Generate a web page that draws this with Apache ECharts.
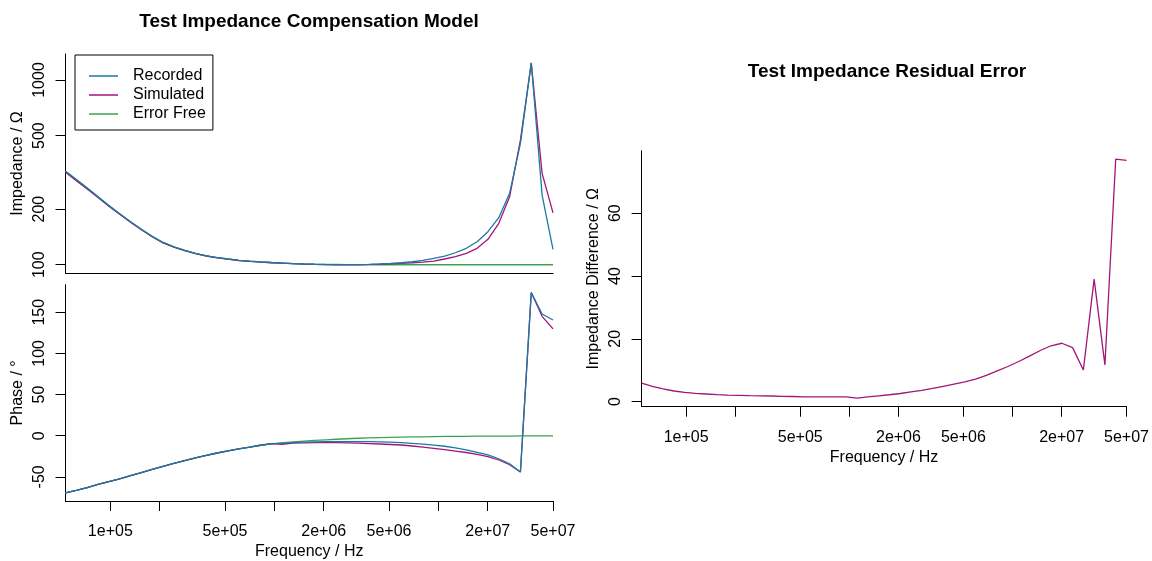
<!DOCTYPE html>
<html>
<head>
<meta charset="utf-8">
<script src="https://cdn.jsdelivr.net/npm/echarts@6/dist/echarts.min.js"></script>
<style>
  html, body { margin: 0; padding: 0; background: #fff; }
  #main { width: 1152px; height: 561px; }
</style>
</head>
<body>
<div id="main"></div>
<script>
  // frequency grid (Hz)
  var freq = [53300, 62040, 72240, 84100, 97930, 114000, 132700, 154500, 179900, 209500,
    243900, 283900, 330600, 384900, 448100, 521700, 607300, 707200, 823300, 958500,
    1115900, 1299000, 1512500, 1761000, 2050000, 2387000, 2778000, 3235000, 3766000, 4385000,
    5105000, 5943000, 6918000, 8054000, 9378000, 10920000, 12710000, 14800000, 17230000, 20060000,
    23360000, 27190000, 31650000, 36850000, 42910000, 50000000]

  // impedance magnitude / ohm
  var impRecorded = [321, 289, 260, 233, 209, 189, 171, 155.5, 142.4, 132,
    125, 119.5, 115.3, 111.8, 109.2, 107.4, 105.7, 104.5, 103.6, 102.8,
    102.1, 101.5, 101.0, 100.6, 100.3, 100.2, 100.1, 100.2, 100.4, 100.9,
    101.6, 102.5, 103.8, 105.6, 108.3, 111.4, 116.1, 122.7, 133.2, 150.9,
    179.7, 243.6, 454, 1241, 238, 121]
  var impSimulated = [317, 285, 257, 231, 207.5, 187.8, 170, 154.7, 141.7, 131.4,
    124.5, 119.1, 115, 111.5, 108.9, 107.1, 105.4, 104.2, 103.3, 102.5,
    101.9, 101.3, 100.8, 100.4, 100.1, 100.0, 99.9, 100.0, 100.2, 100.6,
    101.1, 101.8, 102.5, 103.4, 104.7, 107.4, 110.5, 115.3, 122.7, 137.3,
    167.5, 233, 473, 1235, 312, 191]
  var impErrorFree = [321, 289, 260, 233, 209, 189, 171, 155.5, 142.4, 132,
    125, 119.5, 115.3, 111.8, 109.2, 107.4, 105.7, 104.5, 103.6, 102.8,
    102.1, 101.4, 100.9, 100.6, 100.4, 100.3, 100.2, 100.1, 100.1, 100.0,
    100.0, 100.0, 100.0, 100.0, 100.0, 100.0, 100.0, 100.0, 100.0, 100.0,
    100.0, 100.0, 100.0, 100.0, 100.0, 100.0]

  // phase / degree
  var phRecorded = [-69.5, -66.5, -63.0, -59.2, -55.8, -52.3, -48.5, -44.8, -41.0, -37.3,
    -33.7, -30.2, -27.0, -23.9, -21.0, -18.4, -16.0, -13.9, -11.6, -9.9,
    -9.0, -8.3, -7.8, -7.4, -7.2, -7.1, -7.1, -7.2, -7.3, -7.5,
    -7.8, -8.4, -9.2, -10.3, -11.4, -12.8, -14.8, -17.3, -20.2, -23.4,
    -28.0, -34.1, -44.1, 173.8, 147.8, 140.5]
  var phSimulated = [-69.5, -66.5, -63.0, -59.2, -55.8, -52.3, -48.5, -44.8, -41.0, -37.3,
    -33.7, -30.2, -27.0, -23.9, -21.0, -18.4, -16.0, -13.9, -11.6, -9.6,
    -10.4, -9.0, -8.6, -8.4, -8.3, -8.4, -8.7, -9.1, -9.6, -10.1,
    -10.7, -11.3, -12.5, -13.9, -15.3, -17.0, -18.7, -20.4, -22.8, -25.3,
    -29.5, -35.3, -44.1, 173.8, 145.0, 129.8]
  var phErrorFree = [-69.5, -66.5, -63.0, -59.2, -55.8, -52.3, -48.5, -44.8, -41.0, -37.3,
    -33.7, -30.2, -27.0, -23.9, -21.0, -18.4, -16.0, -13.9, -11.6, -9.9,
    -8.6, -7.5, -6.5, -5.7, -5.0, -4.3, -3.7, -3.1, -2.7, -2.3,
    -2.0, -1.7, -1.5, -1.3, -1.1, -0.9, -0.8, -0.7, -0.6, -0.5,
    -0.4, -0.4, -0.3, -0.3, -0.3, -0.2]

  // |recorded - simulated| / ohm
  var residual = [5.9, 4.9, 4.1, 3.4, 2.95, 2.65, 2.45, 2.25, 2.1, 2.0,
    1.9, 1.85, 1.8, 1.7, 1.65, 1.55, 1.5, 1.5, 1.5, 1.5,
    1.1, 1.5, 1.85, 2.2, 2.6, 3.1, 3.6, 4.2, 4.9, 5.6,
    6.3, 7.2, 8.4, 9.8, 11.2, 12.8, 14.5, 16.3, 17.8, 18.6,
    17.2, 10.1, 39.0, 11.7, 77.2, 76.8]

  // tick labels
  var freqTicks = [1e5, 2e5, 5e5, 1e6, 2e6, 5e6, 1e7, 2e7, 5e7]
  var freqLabels = [1e5, 5e5, 2e6, 5e6, 2e7, 5e7]
  var impTicks = [100, 200, 500, 1000]
  var phTicks = [-50, 0, 50, 100, 150]
  var resTicks = [0, 20, 40, 60]

  var colRecorded = '#1b7aa2'
  var colSimulated = '#a3157a'
  var colErrorFree = '#3ba251'
  var FONT = '"Liberation Sans", Arial, Helvetica, sans-serif'

  function pairs(ys) {
    return freq.map(function (f, i) { return [f, ys[i]] })
  }
  // R style scientific label: 1e+05
  function sci(v) {
    var e = Math.floor(Math.log10(v) + 1e-9)
    var m = Math.round(v / Math.pow(10, e))
    var ee = Math.abs(e)
    return m + 'e' + (e < 0 ? '-' : '+') + (ee < 10 ? '0' + ee : ee)
  }
  function plain(v) {
    return String(Math.round(v))
  }

  var labelStyle = { color: '#000', fontSize: 16, fontFamily: FONT }
  var axisLine = { show: true, onZero: false, lineStyle: { color: '#000', width: 1 } }

  function xAxisCfg(grid, withLabels) {
    return {
      type: 'log', gridIndex: grid, min: 53300, max: 5e7,
      name: withLabels ? 'Frequency / Hz' : '',
      nameLocation: 'middle', nameGap: 43,
      nameTextStyle: labelStyle,
      axisLine: axisLine,
      axisTick: { show: withLabels, customValues: freqTicks, length: 10, lineStyle: { color: '#000' } },
      axisLabel: Object.assign({ show: withLabels, customValues: freqLabels, margin: 23, formatter: sci }, labelStyle),
      splitLine: { show: false }, minorTick: { show: false }
    }
  }
  function yAxisCfg(grid, type, min, max, ticks, name) {
    return {
      type: type, gridIndex: grid, min: min, max: max,
      name: name, nameLocation: 'middle', nameGap: 40, nameRotate: 90,
      nameTextStyle: labelStyle,
      axisLine: axisLine,
      axisTick: { show: true, customValues: ticks, length: 10, lineStyle: { color: '#000' } },
      axisLabel: Object.assign({ customValues: ticks, rotate: 90, margin: 18, formatter: plain }, labelStyle),
      splitLine: { show: false }
    }
  }
  function line(name, xi, yi, data, color) {
    return {
      name: name, type: 'line', xAxisIndex: xi, yAxisIndex: yi,
      data: pairs(data), symbol: 'none', showSymbol: false,
      lineStyle: { color: color, width: 1.3 }, itemStyle: { color: color },
      emphasis: { disabled: true }, animation: false, clip: true
    }
  }

  var chart = echarts.init(document.getElementById('main'))
  var option = {
    backgroundColor: '#fff',
    animation: false,
    title: [
      { text: 'Test Impedance Compensation Model', left: 309, top: 12, textAlign: 'center', padding: 0,
        textStyle: { fontSize: 19, fontWeight: 'bold', color: '#000', fontFamily: FONT } },
      { text: 'Test Impedance Residual Error', left: 887, top: 62, textAlign: 'center', padding: 0,
        textStyle: { fontSize: 19, fontWeight: 'bold', color: '#000', fontFamily: FONT } }
    ],
    legend: {
      data: ['Recorded', 'Simulated', 'Error Free'],
      orient: 'vertical', left: 75, top: 55,
      icon: 'rect', itemWidth: 29, itemHeight: 1.5, itemGap: 3,
      padding: [13, 7, 8, 14],
      borderColor: '#000', borderWidth: 1, borderRadius: 0, backgroundColor: '#fff',
      textStyle: { color: '#000', fontSize: 16, fontFamily: FONT, padding: [0, 0, 0, 10] }
    },
    grid: [
      { left: 65.5, top: 54, width: 487.5, height: 219 },
      { left: 65.5, top: 284.7, width: 487.5, height: 218.6 },
      { left: 641.6, top: 150.7, width: 490.3, height: 256 }
    ],
    xAxis: [xAxisCfg(0, false), xAxisCfg(1, true), xAxisCfg(2, true)],
    yAxis: [
      yAxisCfg(0, 'log', 90.2, 1383, impTicks, 'Impedance / Ω'),
      yAxisCfg(1, 'value', -79.3, 183.4, phTicks, 'Phase / °'),
      yAxisCfg(2, 'value', -1.6, 79.9, resTicks, 'Impedance Difference / Ω')
    ],
    series: [
      line('Error Free', 0, 0, impErrorFree, colErrorFree),
      line('Simulated', 0, 0, impSimulated, colSimulated),
      line('Recorded', 0, 0, impRecorded, colRecorded),
      line('Error Free', 1, 1, phErrorFree, colErrorFree),
      line('Simulated', 1, 1, phSimulated, colSimulated),
      line('Recorded', 1, 1, phRecorded, colRecorded),
      line('Residual', 2, 2, residual, colSimulated)
    ]
  }
  chart.setOption(option)
</script>
</body>
</html>
